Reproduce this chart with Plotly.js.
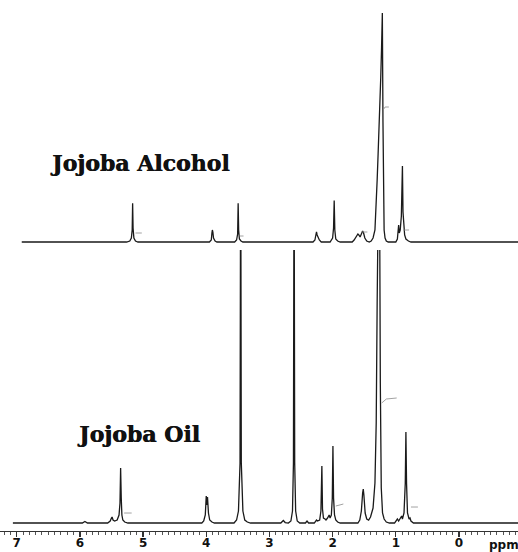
<!DOCTYPE html>
<html>
<head>
<meta charset="utf-8">
<script src="https://cdn.plot.ly/plotly-3.0.1.min.js"></script>
<style>html,body{margin:0;padding:0;background:#fff;}#chart{width:518px;height:552px;}</style>
</head>
<body>
<div id="chart"></div>
<script>
// ---- Jojoba Alcohol spectrum (chemical shift in ppm, relative intensity) ----
var alcoholPpm = [6.92, 5.26, 5.21, 5.185, 5.172, 5.165, 5.158, 5.145, 5.12, 5.08,
  3.95, 3.92, 3.91, 3.903, 3.895, 3.885, 3.86, 3.83,
  3.55, 3.52, 3.503, 3.495, 3.487, 3.475, 3.45, 3.42,
  2.31, 2.28, 2.265, 2.255, 2.245, 2.23, 2.21, 2.18,
  2.04, 2.00, 1.985, 1.975, 1.965, 1.95, 1.92, 1.88,
  1.69, 1.66, 1.63, 1.60, 1.585, 1.565, 1.545, 1.525, 1.51, 1.49, 1.46, 1.42,
  1.39, 1.36, 1.33, 1.31, 1.295, 1.28, 1.266, 1.25, 1.238, 1.225, 1.213, 1.203, 1.195, 1.185, 1.17, 1.15, 1.12,
  1.00, 0.975, 0.962, 0.955, 0.945, 0.93, 0.912, 0.895, 0.886, 0.875, 0.86, 0.84, 0.80, 0.76, -0.95];
var alcoholInt = [0, 0, 1, 4, 12, 38.7, 14, 4, 1, 0,
  0, 2, 9, 12, 10, 4, 1, 0,
  0, 2, 8, 38.7, 12, 3, 1, 0,
  0, 2, 7, 10, 7, 4, 2, 0,
  0, 4, 14, 41.6, 12, 3, 1, 0,
  0, 2, 5, 8, 7, 5, 8, 11, 9, 4, 1, 0,
  1, 4, 12, 35, 62, 88, 110, 140, 165, 195, 229, 120, 40, 12, 4, 1, 0,
  0, 3, 10, 17, 9, 12, 26, 76, 30, 14, 7, 3, 1, 0, 0];
// integral marks on the alcohol trace (null separates the marks)
var alcoholIntegralPpm = [5.12, 5.02, null, 3.47, 3.41, null, 1.54, 1.45, null, 1.20, 1.17, 1.11, null, 0.88, 0.79];
var alcoholIntegralInt = [9, 9, null, 6, 6, null, 10, 10, null, 132, 135, 135, null, 12, 12];

// ---- Jojoba Oil spectrum ----
var oilPpm = [7.06, 5.96, 5.92, 5.88,
  5.56, 5.52, 5.50, 5.49, 5.475, 5.45, 5.41, 5.38, 5.365, 5.355, 5.345, 5.335, 5.32, 5.29, 5.24,
  4.07, 4.04, 4.015, 4.0, 3.99, 3.98, 3.965, 3.945, 3.91, 3.87,
  3.56, 3.52, 3.49, 3.465, 3.455, 3.445, 3.42, 3.39, 3.35, 3.30,
  2.82, 2.78, 2.75, 2.70, 2.66, 2.635, 2.62, 2.61, 2.60, 2.585, 2.56, 2.52,
  2.43, 2.405, 2.38,
  2.29, 2.255, 2.24, 2.205, 2.185, 2.17, 2.16, 2.145, 2.12, 2.105, 2.08, 2.055, 2.04, 2.02, 2.005, 1.995, 1.985, 1.97, 1.95, 1.92, 1.88,
  1.60, 1.57, 1.545, 1.525, 1.515, 1.505, 1.485, 1.46, 1.43,
  1.40, 1.36, 1.33, 1.31, 1.295, 1.282, 1.262, 1.245, 1.23, 1.21, 1.185, 1.15, 1.10,
  1.02, 0.99, 0.975, 0.955, 0.92, 0.907, 0.895, 0.87, 0.85, 0.84, 0.83, 0.815, 0.79, 0.775, 0.76, 0.72, -0.95];
var oilInt = [0, 0, 1.5, 0,
  0, 2, 5, 6, 3, 2, 3, 8, 20, 55, 25, 8, 3, 1, 0,
  0, 2, 8, 27, 18, 26, 10, 3, 1, 0,
  0, 3, 12, 60, 400, 60, 12, 3, 1, 0,
  0, 2.5, 0.5, 0, 2, 12, 60, 400, 60, 12, 2, 0,
  0, 2, 0,
  0, 3, 2, 3, 12, 57, 14, 5, 4, 3, 5, 8, 5, 8, 25, 77, 25, 8, 3, 1, 0,
  0, 3, 12, 30, 34, 28, 10, 4, 3,
  6, 15, 40, 100, 220, 420, 420, 140, 35, 10, 4, 1, 0,
  0, 3, 4, 2, 5, 7, 4, 10, 40, 91, 40, 10, 4, 5, 2, 0, 0];
var oilIntegralPpm = [5.30, 5.18, null, 1.95, 1.83, null, 1.223, 1.15, 0.986, null, 0.76, 0.65];
var oilIntegralInt = [10, 10, null, 17, 19, null, 120, 124, 125, null, 16, 16];

// ---- axis tick labels ----
var tickValues = [7, 6, 5, 4, 3, 2, 1, 0];
var tickLabels = ['7', '6', '5', '4', '3', '2', '1', '0'];
var axisUnit = 'ppm';
var seriesNames = ['Jojoba Alcohol', 'Jojoba Oil'];

var lineColor = '#1a1a1a';
var traces = [
  {x: oilPpm, y: oilInt, xaxis: 'x', yaxis: 'y', type: 'scatter', mode: 'lines',
   line: {color: lineColor, width: 1.3}, name: seriesNames[1], hoverinfo: 'skip'},
  {x: oilIntegralPpm, y: oilIntegralInt, xaxis: 'x', yaxis: 'y', type: 'scatter', mode: 'lines',
   line: {color: '#8a8a8a', width: 0.8}, connectgaps: false, hoverinfo: 'skip'},
  {x: alcoholPpm, y: alcoholInt, xaxis: 'x', yaxis: 'y2', type: 'scatter', mode: 'lines',
   line: {color: lineColor, width: 1.3}, name: seriesNames[0], hoverinfo: 'skip'},
  {x: alcoholIntegralPpm, y: alcoholIntegralInt, xaxis: 'x', yaxis: 'y2', type: 'scatter', mode: 'lines',
   line: {color: '#8a8a8a', width: 0.8}, connectgaps: false, hoverinfo: 'skip'}
];

var labelFont = {family: 'DejaVu Serif', size: 22, color: '#111', weight: 'bold', shadow: '0.6px 0 0 #111'};

var layout = {
  width: 518, height: 552,
  margin: {l: 0, r: 0, t: 0, b: 0},
  paper_bgcolor: '#ffffff', plot_bgcolor: 'rgba(0,0,0,0)',
  showlegend: false,
  xaxis: {
    range: [7.264, -0.934], anchor: 'y',
    showgrid: false, zeroline: false,
    showline: true, linecolor: '#333', linewidth: 1,
    ticks: 'outside', ticklen: 5, tickwidth: 1.3, tickcolor: '#333',
    tickmode: 'array', tickvals: tickValues, ticktext: tickLabels,
    ticklabelstandoff: -4,
    tickfont: {family: 'DejaVu Sans', size: 12, color: '#111', weight: 'bold'},
    minor: {dtick: 0.1, tick0: 0, ticks: 'outside', ticklen: 2.5, tickcolor: '#555', tickwidth: 1, showgrid: false}
  },
  yaxis: {domain: [0.0380, 0.5471], range: [-8, 273], visible: false, fixedrange: true},
  yaxis2: {domain: [0.5471, 1], range: [-8, 242], visible: false, anchor: 'x', fixedrange: true},
  annotations: [
    {text: seriesNames[0], xref: 'x', yref: 'y2', x: 5.05, y: 79, showarrow: false,
     xanchor: 'center', yanchor: 'middle', font: labelFont},
    {text: seriesNames[1], xref: 'x', yref: 'y', x: 5.08, y: 89, showarrow: false,
     xanchor: 'center', yanchor: 'middle', font: labelFont},
    {text: axisUnit, xref: 'paper', yref: 'paper', x: 0.94, y: 0.012, showarrow: false,
     xanchor: 'left', yanchor: 'middle',
     font: {family: 'DejaVu Sans', size: 12, color: '#111', weight: 'bold'}}
  ]
};

Plotly.newPlot('chart', traces, layout, {displayModeBar: false, staticPlot: true});
</script>
</body>
</html>
